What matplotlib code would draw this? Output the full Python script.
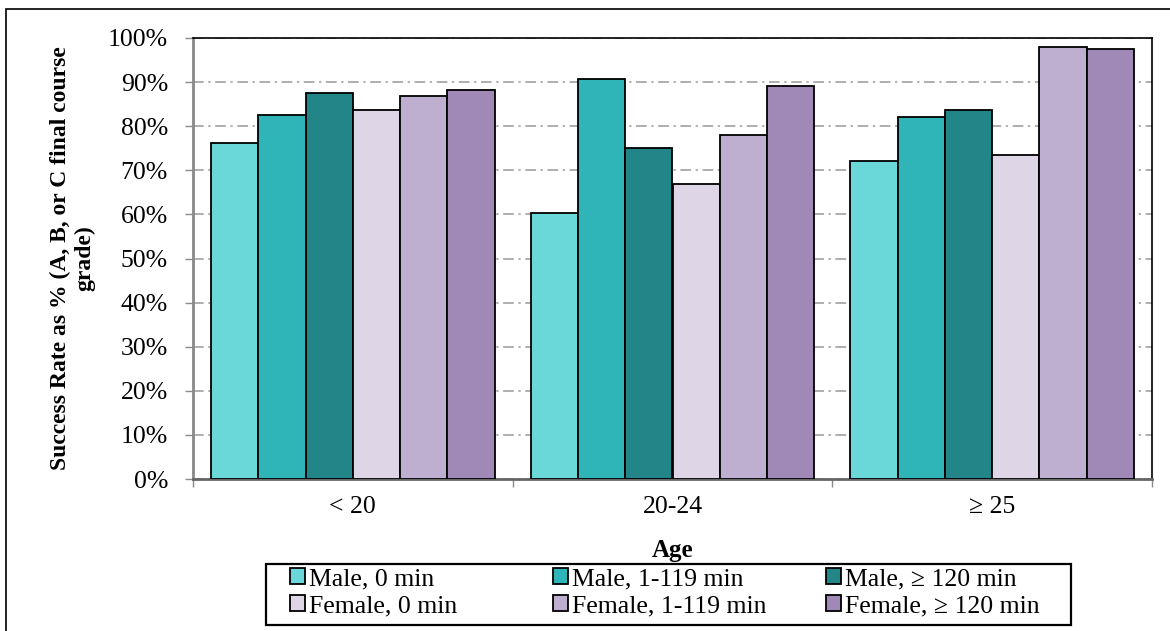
import numpy as np
import matplotlib.pyplot as plt
from matplotlib.patches import Rectangle

plt.rcParams['font.family'] = ['Liberation Serif', 'DejaVu Serif']

ages = ['< 20', '20-24', '\u2265 25']
series = ['Male, 0 min', 'Male, 1-119 min', 'Male, \u2265 120 min',
          'Female, 0 min', 'Female, 1-119 min', 'Female, \u2265 120 min']
male_0 = [76.1, 60.4, 72.1]
male_1_119 = [82.5, 90.6, 82.0]
male_120 = [87.5, 75.0, 83.7]
female_0 = [83.7, 67.0, 73.5]
female_1_119 = [86.9, 78.1, 97.9]
female_120 = [88.1, 89.2, 97.5]
colors = ['#6AD7D9', '#2FB5B8', '#228588', '#DED5E6', '#BEAFD0', '#A089B7']

values = [male_0, male_1_119, male_120, female_0, female_1_119, female_120]

fig = plt.figure(figsize=(11.7, 6.31), dpi=100)
ax = fig.add_axes([193 / 1170, 1 - 479 / 631, (1152 - 193) / 1170, (479 - 38) / 631])

x = np.arange(len(ages))
w = 0.148
bars = []
for i, (vals, c, name) in enumerate(zip(values, colors, series)):
    b = ax.bar(x + (i - 2.5) * w, vals, w, color=c, edgecolor='black',
               linewidth=1.3, label=name, zorder=3)
    bars.append(b)

ax.set_xlim(-0.5, 2.5)
ax.set_ylim(0, 100)
ax.set_yticks(np.arange(0, 101, 10))
ax.set_yticklabels([f'{v}%' for v in range(0, 101, 10)], fontsize=18.5)
ax.set_xticks(x)
ax.set_xticklabels(ages, fontsize=18.5)
ax.set_xticks([-0.5, 0.5, 1.5, 2.5], minor=True)
ax.tick_params(axis='x', which='major', length=0, pad=12)
ax.tick_params(axis='x', which='minor', length=6, color='#888888', width=1)
ax.tick_params(axis='y', length=6, color='#888888', width=1, pad=12)

ax.yaxis.grid(True, color='#999999', linewidth=1.1, dashes=(7, 3, 1.5, 3))
ax.set_axisbelow(True)

for s in ['top', 'right']:
    ax.spines[s].set_color('black')
    ax.spines[s].set_linewidth(1.2)
ax.spines['left'].set_color('#888888')
ax.spines['left'].set_linewidth(2)
ax.spines['bottom'].set_color('#666666')
ax.spines['bottom'].set_linewidth(2)

ax.set_xlabel('Age', fontsize=18, fontweight='bold', labelpad=15)
ax.set_ylabel('Success Rate as % (A, B, or C final course\ngrade)', fontsize=17,
              fontweight='bold', multialignment='center', labelpad=9, linespacing=1.2)

# legend: one column per time band, males on top, females below
col_x = [290, 553, 826]
for j, cx in enumerate(col_x):
    fig.legend([bars[j], bars[j + 3]], [series[j], series[j + 3]],
               loc='upper left', bbox_to_anchor=(cx / 1170, 1 - 568 / 631),
               fontsize=18.5, frameon=False, handlelength=0.58, handleheight=0.58,
               handletextpad=0.15, borderpad=0, labelspacing=0.2, borderaxespad=0)
fig.patches.append(Rectangle((266 / 1170, 1 - 625 / 631), 805 / 1170, 61 / 631,
                             transform=fig.transFigure, fill=False,
                             edgecolor='black', linewidth=1.6))

# outer frame of the figure
fig.patches.append(Rectangle((6 / 1170, -0.5), 2, 1.5 - 9 / 631, transform=fig.transFigure,
                             fill=False, edgecolor='black', linewidth=1.2))

fig.savefig('out.png', dpi=100)
